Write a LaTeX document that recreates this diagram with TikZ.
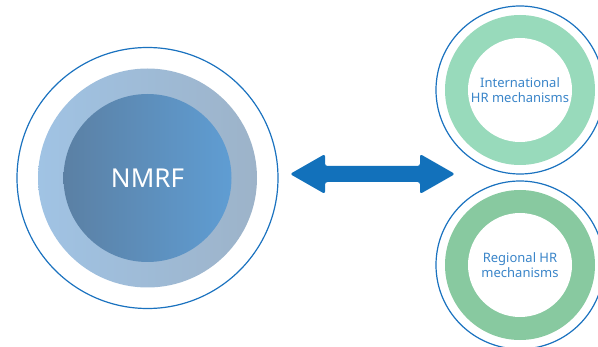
\documentclass[tikz,border=0pt]{standalone}
\usepackage{fontspec}
\setmainfont{Noto Sans}
\usetikzlibrary{positioning}
\definecolor{ringblue}{HTML}{1A72BF}
\definecolor{arrowblue}{HTML}{1271BB}
\definecolor{textblue}{HTML}{3A85C9}
\definecolor{midleft}{HTML}{A0C3E4}
\definecolor{midright}{HTML}{9DB3C9}
\definecolor{coreleft}{HTML}{5B80A4}
\definecolor{coreright}{HTML}{5F9DD3}
\definecolor{mintlight}{HTML}{98DABB}
\definecolor{mintdark}{HTML}{88C9A0}

\begin{document}
\begin{tikzpicture}[
x=1pt,y=1pt,
ring/.style={
  circle,
  draw=ringblue,
  line width=1.2pt,
  inner sep=0pt,
  minimum size=#1
  },
label text/.style={
  align=center,
  text=textblue,
  font=\fontsize{13}{15}\selectfont
  },
>=latex
]
\clip (0,0) rectangle (598,346);

% left circle
\node[ring=261pt] (nmrf) at (147.5,168) {};
\shade[left color=midleft, right color=midright] (nmrf.center) circle [radius=109.5];
\shade[left color=coreleft, right color=coreright] (nmrf.center) circle [radius=84];
\node[text=white, font=\fontsize{26}{30}\selectfont] (nmrf-label) at (nmrf.center) {NMRF};

% right circles
\node[ring=168pt] (intl) at (520,256) {};
\node[ring=168pt] (regl) at (520,81) {};
\foreach \c/\col in {intl/mintlight, regl/mintdark}
{
  \fill[\col] (\c.center) circle [radius=75];
  \fill[white] (\c.center) circle [radius=52];
}
\node[label text] (intl-label) at (intl.center) {International\\HR mechanisms};
\node[label text] (regl-label) at (regl.center) {Regional HR\\mechanisms};

% double arrow
\coordinate (al) at (290,172);
\coordinate (ar) at (455,172);
\fill[arrowblue, rounded corners=2.5pt] (al) -- ++(35,20) -- ++(0,-12) -- ++(95,0) -- ++(0,12)
  -- (ar) -- ++(-35,-20) -- ++(0,12) -- ++(-95,0) -- ++(0,-12) -- cycle;

\end{tikzpicture}
\end{document}
